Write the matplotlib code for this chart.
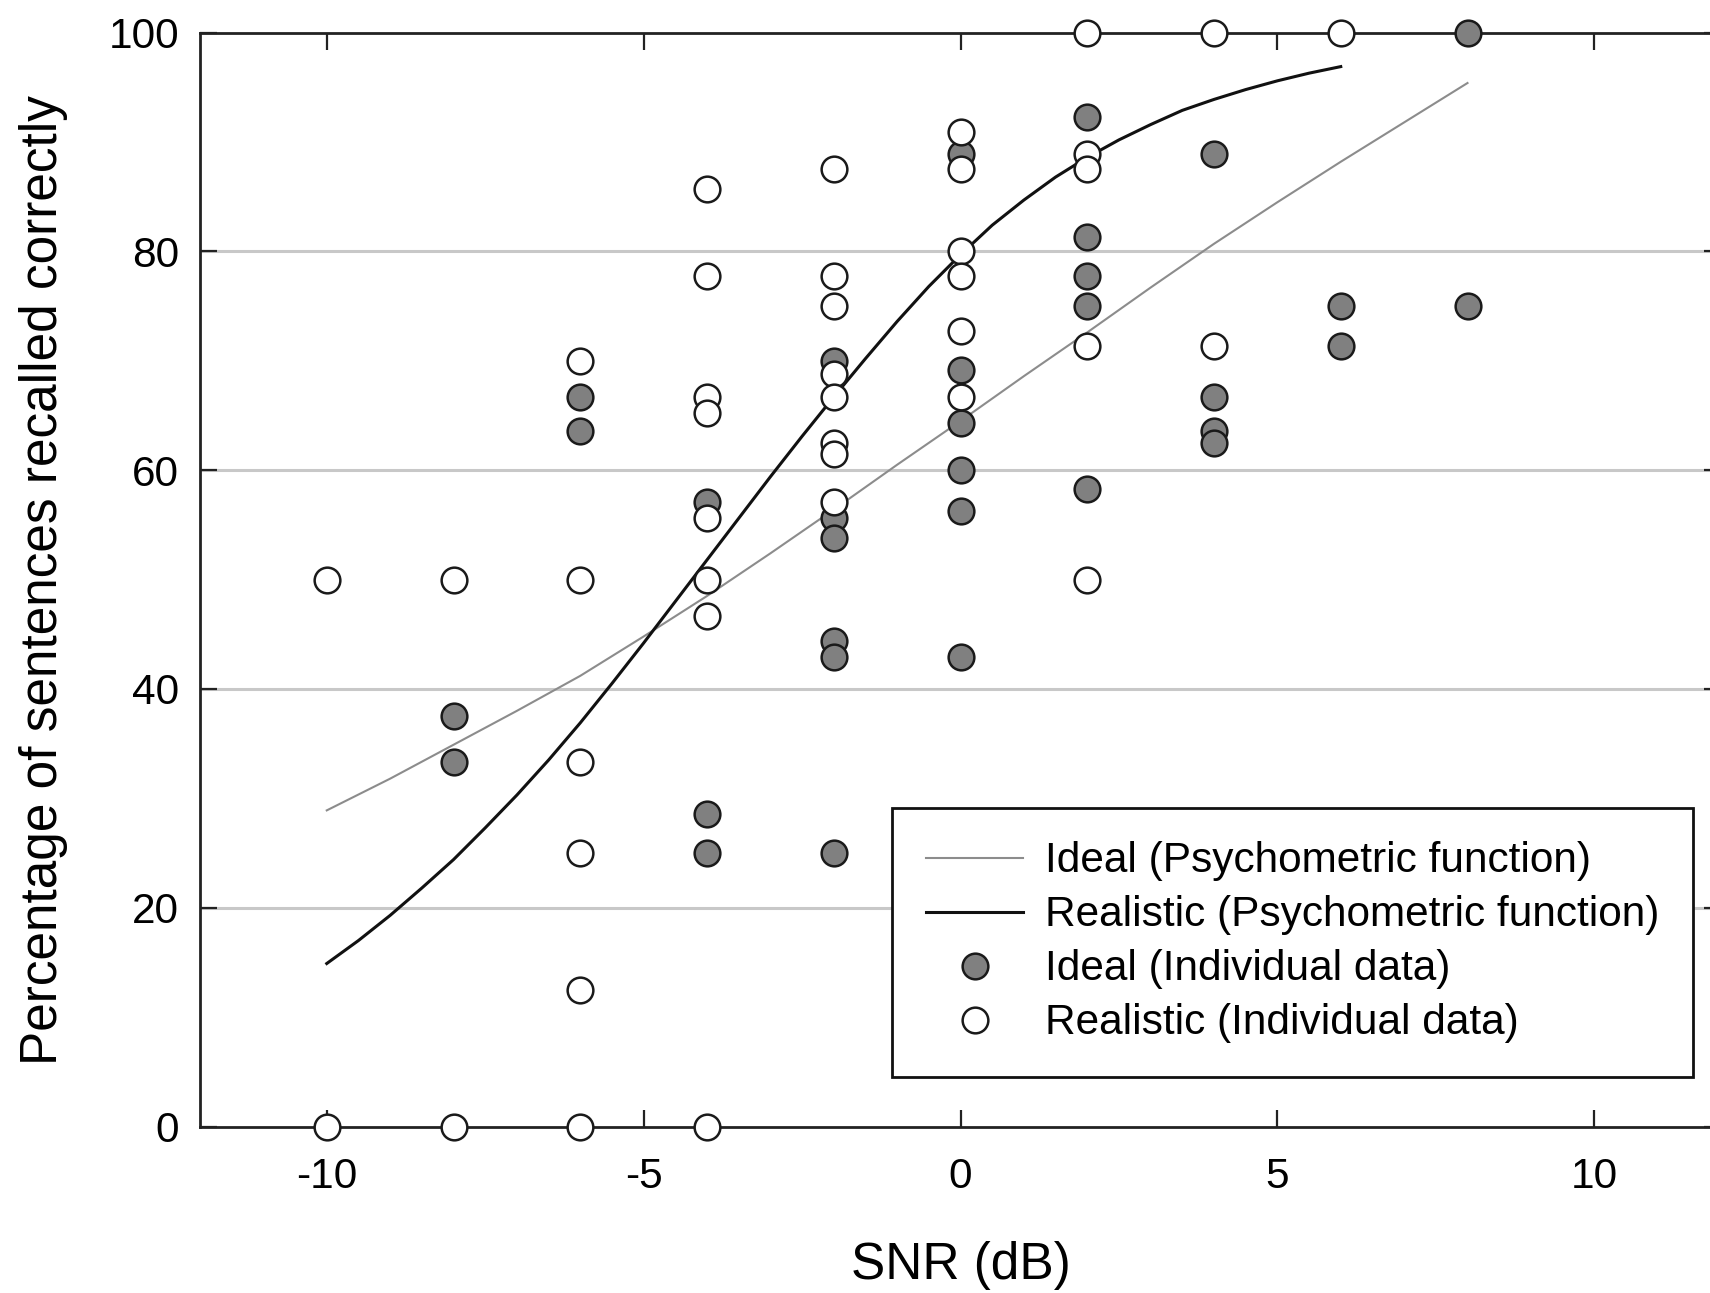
import matplotlib
matplotlib.use("Agg")
import matplotlib.pyplot as plt

plt.rcParams['font.family'] = ['Liberation Sans', 'DejaVu Sans']

# psychometric functions
ideal_curve_x = [-10, -9, -8, -7, -6, -5, -4, -3, -2, -1, 0, 1, 2, 3, 4, 5, 6, 7, 8]
ideal_curve_y = [28.9, 31.8, 34.9, 38.0, 41.2, 44.8, 48.5, 52.4, 56.4, 60.5,
                 64.5, 68.6, 72.6, 76.7, 80.7, 84.5, 88.2, 91.8, 95.4]

real_curve_x = [-10, -9.5, -9, -8.5, -8, -7.5, -7, -6.5, -6, -5.5, -5, -4.5,
                -4, -3.5, -3, -2.5, -2, -1.5, -1, -0.5, 0, 0.5, 1, 1.5,
                2, 2.5, 3, 3.5, 4, 4.5, 5, 5.5, 6]
real_curve_y = [14.9, 17.0, 19.3, 21.8, 24.4, 27.3, 30.3, 33.5, 36.9, 40.5,
                44.2, 48.0, 51.8, 55.6, 59.4, 63.1, 66.7, 70.2, 73.6, 76.8,
                79.7, 82.4, 84.7, 86.8, 88.6, 90.2, 91.6, 92.9, 93.9, 94.8,
                95.6, 96.3, 96.9]

# individual data
ideal_x = ([-8] * 2 + [-6] * 2 + [-4] * 3 + [-2] * 6 + [0] * 6 + [2] * 5
           + [4] * 4 + [6] * 2 + [8] * 2)
ideal_y = [37.5, 33.3,
           66.7, 63.6,
           57.1, 28.6, 25,
           70, 55.6, 53.8, 44.4, 42.9, 25,
           88.9, 69.2, 64.3, 60, 56.3, 42.9,
           92.3, 81.3, 77.8, 75, 58.3,
           88.9, 66.7, 63.6, 62.5,
           75, 71.4,
           100, 75]

real_x = ([-10] * 2 + [-8] * 2 + [-6] * 6 + [-4] * 8 + [-2] * 8 + [0] * 6
          + [2] * 5 + [4] * 2 + [6])
real_y = [50, 0,
          50, 0,
          70, 50, 33.3, 25, 12.5, 0,
          85.7, 77.8, 66.7, 65.2, 55.6, 50, 46.7, 0,
          87.5, 77.8, 75, 68.8, 66.7, 62.5, 61.5, 57.1,
          90.9, 87.5, 80, 77.8, 72.7, 66.7,
          100, 88.9, 87.5, 71.4, 50,
          100, 71.4,
          100]

x_ticks = [-10, -5, 0, 5, 10]
y_ticks = [0, 20, 40, 60, 80, 100]

fig = plt.figure(figsize=(17.1, 12.93), dpi=100)
ax = fig.add_axes([200 / 1710, 1 - 1126.5 / 1293, 1521 / 1710, 1093.8 / 1293])

for g in [20, 40, 60, 80]:
    ax.axhline(g, color='#c8c8c8', lw=2.2, zorder=0)

ax.plot(ideal_curve_x, ideal_curve_y, color='#8c8c8c', lw=1.5, zorder=2,
        label='Ideal (Psychometric function)')
ax.plot(real_curve_x, real_curve_y, color='#111111', lw=2.2, zorder=2,
        label='Realistic (Psychometric function)')
ax.plot(ideal_x, ideal_y, 'o', ms=18.5, mfc='#808080', mec='#1a1a1a', mew=1.8,
        clip_on=False, zorder=4, label='Ideal (Individual data)')
ax.plot(real_x, real_y, 'o', ms=18.5, mfc='white', mec='#1a1a1a', mew=1.8,
        clip_on=False, zorder=5, label='Realistic (Individual data)')

ax.set_xlim(-12, 12)
ax.set_ylim(0, 100)
ax.set_xticks(x_ticks)
ax.set_yticks(y_ticks)
ax.set_xticklabels([str(t) for t in x_ticks])
ax.tick_params(direction='in', length=12, width=1.6, labelsize=30.5,
               top=True, right=True, color='#222222')
ax.tick_params(axis='x', pad=22)
ax.tick_params(axis='y', pad=15)
for s in ax.spines.values():
    s.set_linewidth(2.0)
    s.set_color('#222222')
    s.set_zorder(3)

ax.set_xlabel('SNR (dB)', fontsize=37)
ax.xaxis.label.set_va('center')
ax.xaxis.set_label_coords(0.5, -0.127)
ax.set_ylabel('Percentage of sentences recalled correctly', fontsize=37)
ax.yaxis.label.set_va('center')
ax.yaxis.set_label_coords(-0.1028, 0.5)

leg = ax.legend(loc='lower left', bbox_to_anchor=(0.455, 0.045), borderaxespad=0,
                fontsize=30.5, frameon=True, fancybox=False, framealpha=1,
                edgecolor='#111111', borderpad=0.8, labelspacing=0.33,
                handlelength=2.3, handletextpad=0.5)
leg.get_frame().set_linewidth(2.0)
leg.set_zorder(6)

plt.savefig('out.png', dpi=100)
plt.close()
